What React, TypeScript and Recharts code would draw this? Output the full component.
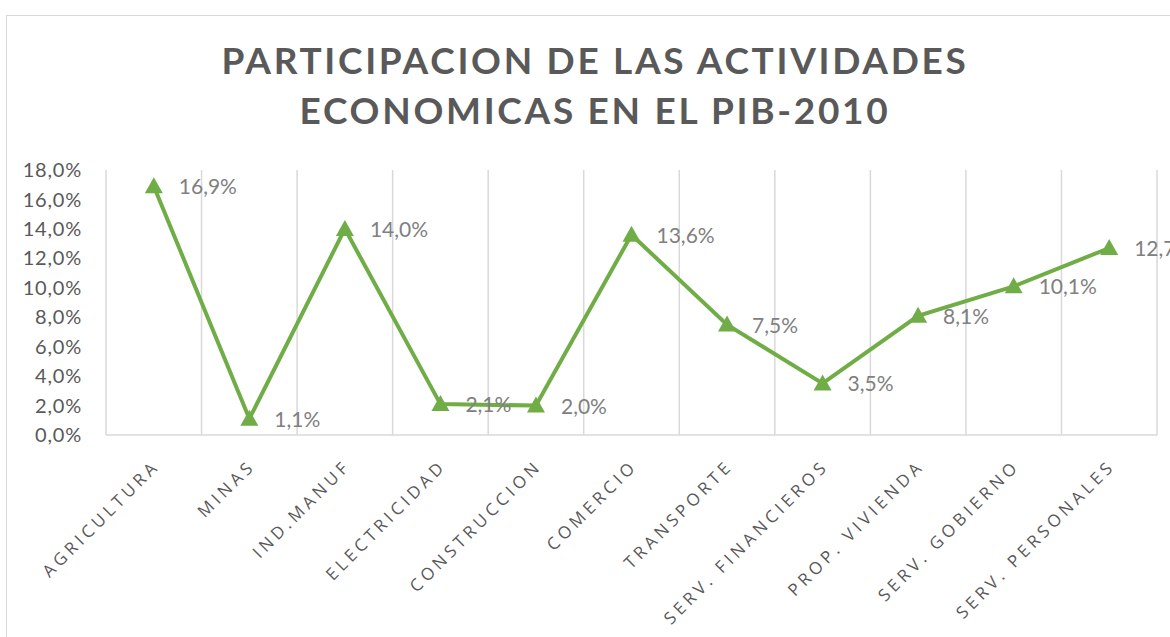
import { LineChart, Line, XAxis, YAxis, CartesianGrid, LabelList } from 'recharts';

const categories = [
  'AGRICULTURA',
  'MINAS',
  'IND.MANUF',
  'ELECTRICIDAD',
  'CONSTRUCCION',
  'COMERCIO',
  'TRANSPORTE',
  'SERV. FINANCIEROS',
  'PROP. VIVIENDA',
  'SERV. GOBIERNO',
  'SERV. PERSONALES',
];
const shares = [16.9, 1.1, 14.0, 2.1, 2.0, 13.6, 7.5, 3.5, 8.1, 10.1, 12.7];
const yTicks = [0, 2, 4, 6, 8, 10, 12, 14, 16, 18];

const data = categories.map((name, i) => ({ name, share: shares[i] }));

const GREEN = '#70AD47';
const fmt = (v: number) => v.toFixed(1).replace('.', ',') + '%';

const Triangle = (props: any) => {
  const { cx, cy } = props;
  if (cx == null || cy == null) return null;
  return <path d={`M${cx},${cy - 9} L${cx + 9},${cy + 7} L${cx - 9},${cy + 7} Z`} fill={GREEN} />;
};

const XTick = (props: any) => {
  const { x, y, payload } = props;
  return (
    <text
      transform={`translate(${x + 7},${y + 24}) rotate(-45)`}
      textAnchor="end"
      fill="#595959"
      fontSize={17}
      letterSpacing={4}
      fontFamily="'Open Sans', sans-serif"
    >
      {payload.value}
    </text>
  );
};

const PointLabel = (props: any) => {
  const { x, y, value } = props;
  return (
    <text x={x + 25} y={y + 8} fill="#808080" fontSize={21} fontFamily="Lato, sans-serif">
      {fmt(value)}
    </text>
  );
};

export default function App() {
  return (
    <div style={{ position: 'fixed', left: 0, top: 0, width: 1170, height: 637, overflow: 'hidden', background: '#fff' }}>
      <div style={{ position: 'absolute', left: 6, top: 15, width: 1200, height: 700, border: '1px solid #d9d9d9' }} />
      <div
        style={{
          position: 'absolute',
          left: 0,
          top: 35,
          width: 1190,
          textAlign: 'center',
          fontFamily: 'Lato, sans-serif',
          fontWeight: 700,
          fontSize: 37,
          lineHeight: '50px',
          letterSpacing: 2.7,
          color: '#595959',
        }}
      >
        PARTICIPACION DE LAS ACTIVIDADES
        <br />
        ECONOMICAS EN EL PIB-2010
      </div>
      <div style={{ position: 'absolute', left: 0, top: 0 }}>
        <LineChart width={1170} height={637} data={data} margin={{ top: 170, right: 13, bottom: 0, left: 0 }}>
          <CartesianGrid
            horizontal={false}
            stroke="#d9d9d9"
            strokeWidth={1.5}
            verticalCoordinatesGenerator={({ offset }: any) =>
              categories.map((_, i) => offset.left + (i * offset.width) / categories.length).concat(offset.left + offset.width)
            }
          />
          <XAxis
            dataKey="name"
            interval={0}
            padding={{ left: 47.8, right: 47.8 }}
            tickLine={false}
            axisLine={{ stroke: '#d9d9d9', strokeWidth: 1.5 }}
            tick={<XTick />}
            height={202}
          />
          <YAxis
            domain={[0, 18]}
            ticks={yTicks}
            width={106}
            axisLine={false}
            tickLine={false}
            tickSize={0}
            tickMargin={24}
            tickFormatter={fmt}
            tick={{ fill: '#595959', fontSize: 20, fontFamily: 'Lato, sans-serif', letterSpacing: 0.8 }}
          />
          <Line
            dataKey="share"
            stroke={GREEN}
            strokeWidth={4}
            dot={<Triangle />}
            activeDot={false}
            isAnimationActive={false}
          >
            <LabelList dataKey="share" content={<PointLabel />} />
          </Line>
        </LineChart>
      </div>
    </div>
  );
}
